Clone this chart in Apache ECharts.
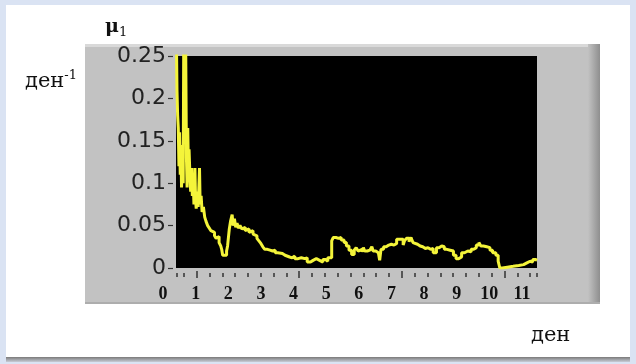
<!DOCTYPE html>
<html>
<head>
<meta charset="utf-8">
<script src="https://cdn.jsdelivr.net/npm/echarts@6/dist/echarts.min.js"></script>
<style>
  html, body { margin: 0; padding: 0; background: #dae3f3; }
  #chart { width: 636px; height: 364px; }
</style>
</head>
<body>
<div id="chart"></div>
<script>
// Specific growth rate mu1 (1/day) over time (days)
const days = [
  0.40, 0.43, 0.45, 0.47, 0.49, 0.51, 0.53, 0.55, 0.57, 0.60, 0.62, 0.64, 0.67, 0.69, 0.72, 0.74,
  0.76, 0.78, 0.80, 0.83, 0.85, 0.88, 0.90, 0.93, 0.95, 0.98, 1.00, 1.02, 1.05, 1.08, 1.12, 1.14,
  1.17, 1.20, 1.24, 1.28, 1.32, 1.37, 1.42, 1.47, 1.52, 1.58, 1.63, 1.68, 1.72, 1.77, 1.80, 1.83,
  1.95, 1.98, 2.03, 2.07, 2.12, 2.15, 2.19, 2.23, 2.27, 2.31, 2.36, 2.42, 2.47, 2.52, 2.58, 2.64,
  2.70, 2.76, 2.82, 2.88, 2.94, 3.00, 3.06, 3.12, 3.20, 3.28, 3.36, 3.44, 3.52, 3.58, 3.66, 3.74,
  3.80, 3.88, 3.96, 4.04, 4.14, 4.24, 4.34, 4.42, 4.52, 4.60, 4.70, 4.80, 4.90, 4.98, 5.05, 5.17,
  5.22, 5.30, 5.38, 5.46, 5.55, 5.62, 5.70, 5.78, 5.86, 5.92, 5.98, 6.04, 6.10, 6.14, 6.18, 6.26,
  6.34, 6.40, 6.44, 6.52, 6.60, 6.64, 6.68, 6.76, 6.84, 6.92, 7.00, 7.08, 7.16, 7.24, 7.30, 7.36,
  7.40, 7.46, 7.54, 7.60, 7.66, 7.72, 7.80, 7.88, 7.96, 8.04, 8.12, 8.20, 8.28, 8.38, 8.46, 8.54,
  8.62, 8.70, 8.80, 8.90, 8.98, 9.06, 9.15, 9.24, 9.34, 9.44, 9.52, 9.60, 9.68, 9.74, 9.82, 9.92,
  10.02, 10.10, 10.20, 10.27, 10.32, 10.40, 10.55, 10.73, 10.90, 11.05, 11.15, 11.25, 11.33, 11.42, 11.46
];
const mu = [
  0.31, 0.21, 0.18, 0.165, 0.12, 0.16, 0.11, 0.145, 0.095, 0.14, 0.10, 0.30, 0.16, 0.30, 0.13, 0.095,
  0.165, 0.12, 0.14, 0.105, 0.09, 0.118, 0.085, 0.10, 0.075, 0.118, 0.08, 0.07, 0.09, 0.072, 0.118, 0.075,
  0.085, 0.066, 0.072, 0.06, 0.055, 0.05, 0.047, 0.044, 0.042, 0.038, 0.035, 0.037, 0.030, 0.026, 0.022, 0.015,
  0.020, 0.026, 0.045, 0.055, 0.063, 0.050, 0.058, 0.048, 0.053, 0.047, 0.050, 0.046, 0.048, 0.044, 0.046, 0.042,
  0.044, 0.040, 0.038, 0.035, 0.032, 0.029, 0.025, 0.022, 0.021, 0.020, 0.021, 0.018, 0.020, 0.017, 0.015, 0.016,
  0.013, 0.012, 0.014, 0.011, 0.012, 0.011, 0.012, 0.007, 0.009, 0.011, 0.009, 0.007, 0.010, 0.008, 0.012, 0.032,
  0.036, 0.035, 0.036, 0.033, 0.030, 0.026, 0.021, 0.016, 0.021, 0.024, 0.020, 0.022, 0.019, 0.024, 0.020, 0.021,
  0.019, 0.025, 0.020, 0.018, 0.020, 0.009, 0.022, 0.025, 0.027, 0.028, 0.027, 0.029, 0.034, 0.032, 0.034, 0.027,
  0.032, 0.035, 0.031, 0.036, 0.030, 0.028, 0.026, 0.025, 0.023, 0.024, 0.022, 0.023, 0.018, 0.024, 0.026, 0.025,
  0.022, 0.021, 0.020, 0.015, 0.011, 0.013, 0.018, 0.020, 0.019, 0.022, 0.024, 0.027, 0.030, 0.026, 0.025, 0.024,
  0.021, 0.018, 0.015, 0.008, 0.000, 0.001, 0.002, 0.003, 0.004, 0.006, 0.008, 0.007, 0.010, 0.009, 0.009
];

// Day labels under the plot and the y range
const dayLabels = [0, 1, 2, 3, 4, 5, 6, 7, 8, 9, 10, 11];
const yTicks = [0, 0.05, 0.1, 0.15, 0.2, 0.25];

// Plot window in days, and the instrument's tick ruler (fine ticks, longer every 8th)
const plotStart = 0.40, plotEnd = 11.46;
const rulerFirstMajor = 1.032, rulerStep = 0.393, rulerMajorEvery = 8;
const minorTicks = [0.438, 11.44];
const majorTicks = [];
for (let i = -1; rulerFirstMajor + i * rulerStep <= 11.3; i++) {
  const v = +(rulerFirstMajor + i * rulerStep).toFixed(3);
  if (((i % rulerMajorEvery) + rulerMajorEvery) % rulerMajorEvery === 0) majorTicks.push(v);
  else minorTicks.push(v);
}

const points = days.map((d, i) => [d, mu[i]]);

const chart = echarts.init(document.getElementById('chart'), null, { renderer: 'canvas' });

const serif = 'DejaVu Serif';
const tickColor = '#333';

chart.setOption({
  backgroundColor: '#dae3f3',
  animation: false,
  graphic: [
    // white sheet with a soft shadow underneath
    { type: 'rect', z: -20, silent: true, shape: { x: 6, y: 357, width: 624, height: 5 },
      style: { fill: new echarts.graphic.LinearGradient(0, 0, 0, 1, [
        { offset: 0, color: '#7a7a7a' }, { offset: 1, color: '#c8ccd6' }]) } },
    { type: 'rect', z: -19, silent: true, shape: { x: 6, y: 5, width: 624, height: 352 },
      style: { fill: '#ffffff' } },
    // grey graph frame
    { type: 'rect', z: -18, silent: true, shape: { x: 85, y: 44, width: 515, height: 260 },
      style: { fill: '#c2c2c2' } },
    { type: 'rect', z: -17, silent: true, shape: { x: 85, y: 44, width: 515, height: 3 },
      style: { fill: '#d9d9d9' } },
    { type: 'rect', z: -17, silent: true, shape: { x: 588, y: 44, width: 12, height: 260 },
      style: { fill: new echarts.graphic.LinearGradient(0, 0, 1, 0, [
        { offset: 0, color: '#c2c2c2' }, { offset: 1, color: '#8e8e8e' }]) } },
    { type: 'rect', z: -17, silent: true, shape: { x: 85, y: 302, width: 515, height: 2 },
      style: { fill: '#adadad' } }
  ],
  title: [
    {
      text: '{m|μ}{s|1}', left: 100, top: 10,
      textStyle: { rich: {
        m: { fontFamily: serif, fontWeight: 'bold', fontSize: 19, color: '#111', lineHeight: 24 },
        s: { fontFamily: serif, fontWeight: 'normal', fontSize: 13, color: '#111', verticalAlign: 'bottom', lineHeight: 16 }
      } }
    },
    {
      text: '{u|ден}{p|-1}', left: 20, top: 64,
      textStyle: { fontWeight: 'normal', rich: {
        u: { fontFamily: serif, fontWeight: 'normal', fontSize: 21, color: '#111', lineHeight: 26 },
        p: { fontFamily: serif, fontWeight: 'normal', fontSize: 13, color: '#111', verticalAlign: 'top', lineHeight: 22 }
      } }
    },
    {
      text: 'ден', left: 526, top: 320,
      textStyle: { fontFamily: serif, fontWeight: 'normal', fontSize: 21, color: '#111' }
    }
  ],
  grid: [
    { left: 176, top: 56, width: 361, height: 212, show: true, backgroundColor: '#000000', borderWidth: 0 },
    { left: 163, top: 56, width: 359, height: 212, show: false }
  ],
  xAxis: [
    { // data axis, days
      type: 'value', gridIndex: 0, min: plotStart, max: plotEnd, position: 'bottom',
      axisLine: { show: false }, axisTick: { show: false }, axisLabel: { show: false }, splitLine: { show: false }
    },
    { // fine ruler ticks
      type: 'value', gridIndex: 0, min: plotStart, max: plotEnd, position: 'bottom', offset: 5,
      axisLine: { show: false }, axisLabel: { show: false }, splitLine: { show: false },
      axisTick: { show: true, customValues: minorTicks, length: 4, lineStyle: { color: tickColor, width: 1.5 } }
    },
    { // longer ruler ticks
      type: 'value', gridIndex: 0, min: plotStart, max: plotEnd, position: 'bottom', offset: 3,
      axisLine: { show: false }, axisLabel: { show: false }, splitLine: { show: false },
      axisTick: { show: true, customValues: majorTicks, length: 7, lineStyle: { color: tickColor, width: 1.5 } }
    },
    { // day numbers
      type: 'value', gridIndex: 1, min: dayLabels[0], max: dayLabels[dayLabels.length - 1], interval: 1,
      position: 'bottom',
      axisLine: { show: false }, axisTick: { show: false }, splitLine: { show: false },
      axisLabel: { show: true, margin: 17, fontFamily: 'Liberation Serif', fontWeight: 'bold', fontSize: 18,
        color: '#111', showMinLabel: true, showMaxLabel: true }
    }
  ],
  yAxis: [
    {
      type: 'value', gridIndex: 0, min: yTicks[0], max: yTicks[yTicks.length - 1], interval: 0.05,
      position: 'left', offset: 3,
      axisLine: { show: false }, splitLine: { show: false },
      axisTick: { show: true, length: 5, lineStyle: { color: tickColor, width: 1.2 } },
      axisLabel: { show: true, margin: 7, fontFamily: 'DejaVu Sans', fontSize: 22, color: '#222',
        formatter: v => String(+v.toFixed(2)) }
    },
    { type: 'value', gridIndex: 1, show: false, min: 0, max: 1 }
  ],
  series: [
    {
      type: 'line', xAxisIndex: 0, yAxisIndex: 0, data: points, step: 'end',
      showSymbol: false, clip: true,
      lineStyle: { color: '#f4f43a', width: 3 }
    }
  ]
});
</script>
</body>
</html>
